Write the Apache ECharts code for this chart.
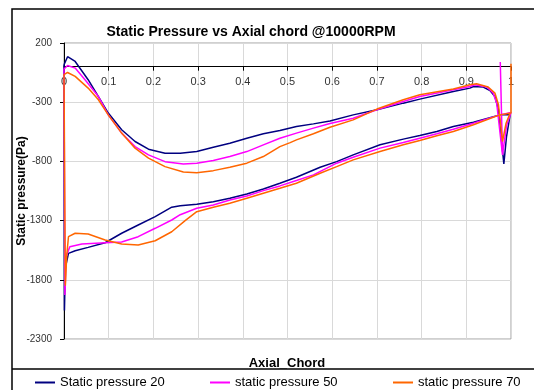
<!DOCTYPE html>
<html>
<head>
<meta charset="utf-8">
<script src="https://cdn.jsdelivr.net/npm/echarts@6/dist/echarts.min.js"></script>
<style>
  html, body { margin: 0; padding: 0; background: #fff; }
  #chart { width: 534px; height: 390px; }
</style>
</head>
<body>
<div id="chart"></div>
<script>
// axial chord vs static pressure, each series is a loop around the blade
var sp20 = [
  [0, 16], [0.008, 84], [0.025, 44], [0.054, -110], [0.077, -252], [0.099, -392],
  [0.129, -533], [0.159, -632], [0.189, -697], [0.226, -731], [0.26, -731],
  [0.297, -717], [0.334, -680], [0.371, -646], [0.409, -604], [0.446, -567],
  [0.483, -539], [0.52, -506], [0.558, -483], [0.595, -458], [0.647, -407],
  [0.7, -364], [0.759, -308], [0.796, -274], [0.871, -209], [0.908, -181],
  [0.916, -167], [0.938, -172], [0.953, -201], [0.964, -252], [0.972, -364],
  [0.984, -821], [0.99, -590], [0.998, -407], [1, -392],
  [0.975, -407], [0.916, -470], [0.871, -506], [0.834, -548], [0.796, -582],
  [0.759, -612], [0.707, -660], [0.647, -745], [0.61, -802], [0.573, -849],
  [0.52, -934], [0.483, -984], [0.446, -1033], [0.409, -1075], [0.371, -1111],
  [0.334, -1140], [0.297, -1162], [0.26, -1174], [0.241, -1187], [0.204, -1267],
  [0.166, -1337], [0.129, -1407], [0.092, -1487], [0.054, -1526], [0.025, -1555],
  [0.01, -1577], [0.003, -1700], [0.001, -2060], [0, 16]
];
var sp50 = [
  [0.976, 40], [0.981, -745], [0.99, -500], [1, -387],
  [0.975, -407], [0.916, -477], [0.871, -528], [0.834, -567], [0.796, -604],
  [0.759, -641], [0.707, -688], [0.647, -765], [0.61, -815], [0.558, -914],
  [0.52, -962], [0.483, -1007], [0.446, -1047], [0.409, -1092], [0.371, -1126],
  [0.334, -1168], [0.297, -1196], [0.26, -1250], [0.241, -1295], [0.204, -1365],
  [0.166, -1436], [0.129, -1481], [0.092, -1487], [0.04, -1498], [0.013, -1520],
  [0.005, -1600], [0.002, -1929], [0, -20],
  [0.008, 10], [0.025, -12], [0.047, -110], [0.077, -252], [0.099, -407],
  [0.129, -561], [0.159, -675], [0.189, -745], [0.226, -802], [0.267, -821],
  [0.297, -815], [0.334, -793], [0.371, -759], [0.409, -717], [0.446, -660],
  [0.483, -604], [0.52, -561], [0.558, -519], [0.595, -480], [0.647, -435],
  [0.7, -364], [0.759, -294], [0.796, -252], [0.871, -195], [0.908, -167],
  [0.919, -153], [0.946, -172], [0.96, -223], [0.968, -308], [0.981, -745]
];
var sp70 = [
  [1, 25], [1, -392],
  [0.975, -407], [0.916, -491], [0.871, -548], [0.834, -584], [0.796, -624],
  [0.759, -660], [0.707, -717], [0.647, -787], [0.61, -844], [0.573, -900],
  [0.52, -984], [0.483, -1027], [0.446, -1069], [0.409, -1111], [0.371, -1154],
  [0.334, -1187], [0.297, -1225], [0.271, -1300], [0.241, -1394], [0.204, -1470],
  [0.166, -1506], [0.129, -1498], [0.092, -1464], [0.054, -1413], [0.025, -1407],
  [0.01, -1436], [0.006, -1600], [0.003, -1850], [0, -68],
  [0.008, -49], [0.025, -82], [0.054, -181], [0.077, -280], [0.099, -407],
  [0.129, -561], [0.159, -688], [0.189, -773], [0.226, -844], [0.267, -890],
  [0.297, -895], [0.334, -878], [0.371, -849], [0.409, -815], [0.446, -759],
  [0.483, -675], [0.506, -641], [0.52, -618], [0.558, -567], [0.595, -511],
  [0.647, -449], [0.7, -358], [0.759, -280], [0.796, -237], [0.871, -189],
  [0.908, -153], [0.923, -144], [0.949, -172], [0.964, -223], [0.972, -322],
  [0.981, -632], [0.989, -477], [0.998, -392]
];
var seriesNames = ["Static pressure 20", "static pressure 50", "static pressure 70"];
var seriesColors = ["#000080", "#FF00FF", "#FF6600"];
var legendLeft = [35, 210, 393];

var yMin = -2300;
var yMax = 200;
var gridTop = 43;
var gridBottom = 51;
var font = "Liberation Sans, Arial, sans-serif";
var echart = echarts.init(document.getElementById("chart"));

// x axis sits on the zero line: shift a top axis down by the height of 0..yMax
var plotH = 390 - gridTop - gridBottom;
var zeroOffset = -plotH * yMax / (yMax - yMin);

var series = [sp20, sp50, sp70].map(function (d, i) {
  return {
    name: seriesNames[i],
    type: "line",
    data: d,
    showSymbol: false,
    symbol: "none",
    lineStyle: { color: seriesColors[i], width: 1.5 },
    itemStyle: { color: seriesColors[i] },
  };
});

var legends = seriesNames.map(function (n, i) {
  return {
    data: [n],
    left: legendLeft[i],
    top: 376,
    padding: 0,
    icon: "rect",
    itemWidth: 20,
    itemHeight: 2,
    itemGap: 4,
    textStyle: { fontFamily: font, fontSize: 13, color: "#000" },
  };
});

var option = {
  animation: false,
  textStyle: { fontFamily: font },
  title: [
    {
      text: "Static Pressure vs Axial chord @10000RPM",
      left: 246,
      top: 20,
      textAlign: "center",
      textStyle: { fontFamily: font, fontSize: 14, fontWeight: "bold", color: "#000" },
    },
    {
      text: "Axial_Chord",
      left: 282,
      top: 352,
      textAlign: "center",
      textStyle: { fontFamily: font, fontSize: 13, fontWeight: "bold", color: "#000" },
    },
  ],
  legend: legends,
  grid: {
    left: 64,
    right: 23,
    top: gridTop,
    bottom: gridBottom,
    show: true,
    borderColor: "#a0a0a0",
    borderWidth: 1,
  },
  xAxis: {
    type: "value",
    position: "top",
    offset: zeroOffset,
    min: 0,
    max: 1,
    interval: 0.1,
    axisLine: { onZero: false, lineStyle: { color: "#000", width: 1 } },
    axisTick: { show: true, inside: true, length: 4, lineStyle: { color: "#000" } },
    axisLabel: {
      inside: true,
      fontSize: 11,
      color: "#333",
      margin: 10,
      formatter: function (v) {
        if (v === 0) return "0";
        if (v === 1) return "1";
        return v.toFixed(1);
      },
    },
    splitLine: { show: true, lineStyle: { color: "#d9d9d9" } },
  },
  yAxis: {
    type: "value",
    min: yMin,
    max: yMax,
    interval: 500,
    name: "Static pressure(Pa)",
    nameLocation: "middle",
    nameGap: 36,
    nameMoveOverlap: false,
    nameTextStyle: { fontFamily: font, fontSize: 12, fontWeight: "bold", color: "#000" },
    axisLine: { show: true, lineStyle: { color: "#000", width: 1 } },
    axisTick: { show: true, length: 4, lineStyle: { color: "#000" } },
    axisLabel: {
      fontSize: 10,
      color: "#333",
      margin: 12,
      formatter: function (v) {
        return String(v);
      },
    },
    splitLine: { show: true, lineStyle: { color: "#d9d9d9" } },
  },
  graphic: [
    {
      type: "rect",
      shape: { x: 12, y: 9, width: 600, height: 500 },
      style: { fill: "none", stroke: "#000", lineWidth: 1.5 },
      silent: true,
    },
    {
      type: "line",
      shape: { x1: 12, y1: 369, x2: 534, y2: 369 },
      style: { stroke: "#000", lineWidth: 1.5 },
      silent: true,
    },
  ],
  series: series,
};
echart.setOption(option);
</script>
</body>
</html>
